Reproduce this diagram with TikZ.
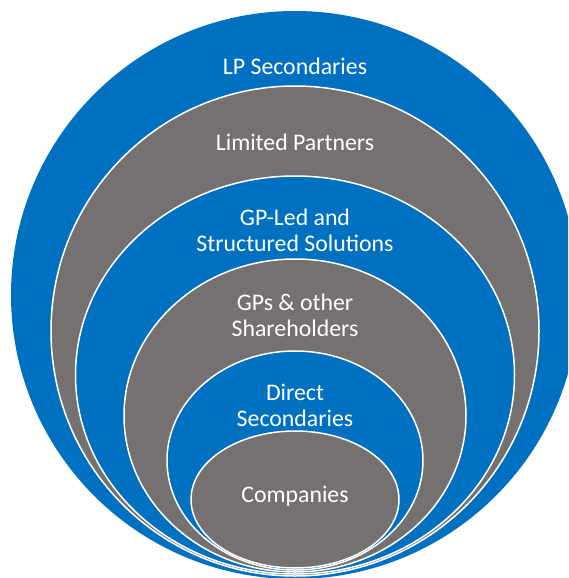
\documentclass[tikz,border=0pt]{standalone}
\usepackage{fontspec}
\setmainfont{Carlito}
\usepackage{tikz}
\usepackage{xcolor}
\definecolor{lpblue}{RGB}{0,112,192}
\definecolor{lpgrey}{RGB}{118,113,113}
\tikzset{
    ring-blue/.style = {fill=lpblue, draw=white, line width=1.5pt},
    ring-grey/.style = {fill=lpgrey, draw=white, line width=1.5pt},
    ring-label/.style = {text=white, font=\fontsize{23.8}{26}\selectfont, align=center},
}

\begin{document}
\begin{tikzpicture}[x=1pt, y=-1pt]
\useasboundingbox (0,0) rectangle (568,578);
\clip (0,0) rectangle (568,578);
% nested rings, all touching near the bottom
\fill[lpblue] (295,295) circle [radius=284];
\draw[ring-grey] (295,331) ellipse [x radius=244, y radius=245];
\draw[ring-blue] (295,375) ellipse [x radius=219.5, y radius=199];
\draw[ring-grey] (295,415.5) ellipse [x radius=171, y radius=156.5];
\draw[ring-blue] (295,460.5) ellipse [x radius=128, y radius=109.5];
\draw[ring-grey] (295,499.5) ellipse [x radius=104, y radius=68.5];
% labels
\node[ring-label] (lpsec) at (295,66) {LP Secondaries};
\node[ring-label] (limited) at (295,142) {Limited Partners};
\node[ring-label] (gpled) at (295,230) {GP-Led and\\Structured Solutions};
\node[ring-label] (gps) at (295,315.5) {GPs \& other\\Shareholders};
\node[ring-label] (direct) at (295,405.5) {Direct\\Secondaries};
\node[ring-label] (companies) at (295,496.5) {Companies};
\end{tikzpicture}
\end{document}
